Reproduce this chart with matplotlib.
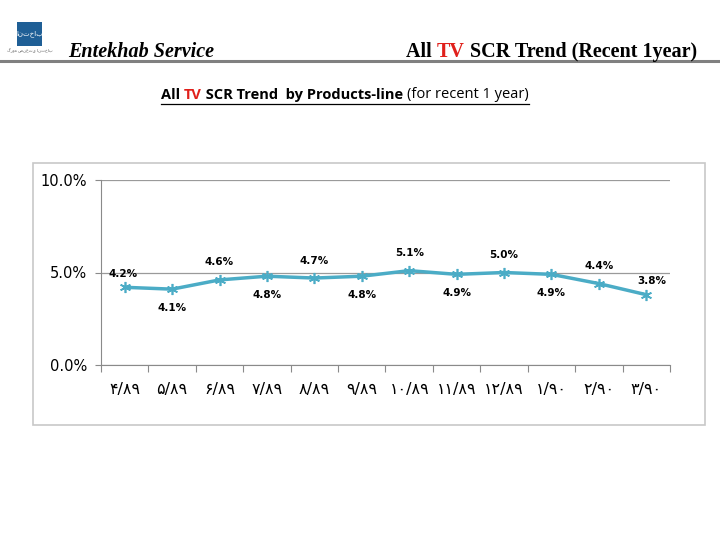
import matplotlib
matplotlib.use("Agg")
import matplotlib.pyplot as plt
from matplotlib.patches import Rectangle
from matplotlib.lines import Line2D

categories = ["۴/۸۹", "۵/۸۹", "۶/۸۹", "۷/۸۹", "۸/۸۹", "۹/۸۹",
              "۱۰/۸۹", "۱۱/۸۹", "۱۲/۸۹", "۱/۹۰", "۲/۹۰", "۳/۹۰"]
scr_values = [4.2, 4.1, 4.6, 4.8, 4.7, 4.8, 5.1, 4.9, 5.0, 4.9, 4.4, 3.8]
label_pos = ["above", "below", "above", "below", "above", "below",
             "above", "below", "above", "below", "above", "aboveright"]
yticks = [0, 5, 10]

W, H = 720, 540
fig = plt.figure(figsize=(W / 100, H / 100), dpi=100)
fig.patch.set_facecolor("white")

def fx(px):
    return px / W

def fy(py):
    return 1 - py / H

# header logo
fig.patches.append(Rectangle((fx(17), fy(46)), fx(25), 24 / H, transform=fig.transFigure,
                             facecolor="#1f5f96", edgecolor="none"))
fig.text(fx(29.5), fy(34), "انتخاب", color="white", fontsize=5, ha="center", va="center",
         family="DejaVu Sans")
fig.text(fx(29.5), fy(51), "گروه صنعتی انتخاب", color="#555555", fontsize=3, ha="center",
         va="center", family="DejaVu Sans")

fig.text(fx(68), fy(52), "Entekhab Service", fontsize=14.5, fontweight="bold", fontstyle="italic",
         family="Liberation Serif", ha="left", va="center")

# right header title with red TV
renderer = fig.canvas.get_renderer()
parts = [("All ", "black"), ("TV", "#e0201b"), (" SCR Trend (Recent 1year)", "black")]
widths = []
for t, c in parts:
    tt = fig.text(0, 0, t, fontsize=14.5, fontweight="bold", family="Liberation Serif")
    widths.append(tt.get_window_extent(renderer).width)
    tt.remove()
x = 697 - sum(widths)
for (t, c), w in zip(parts, widths):
    fig.text(fx(x), fy(52), t, fontsize=14.5, fontweight="bold", family="Liberation Serif",
             color=c, ha="left", va="center")
    x += w

fig.lines.append(Line2D([0, 1], [fy(61), fy(61)], transform=fig.transFigure,
                        color="#808080", lw=2.2))

# subtitle underlined
sparts = [("All ", "black", "bold"), ("TV", "#e0201b", "bold"),
          (" SCR Trend  by Products-line ", "black", "bold"), ("(for recent 1 year)", "black", "normal")]
sw = []
for t, c, wgt in sparts:
    tt = fig.text(0, 0, t, fontsize=10.5, fontweight=wgt, family="Open Sans")
    sw.append(tt.get_window_extent(renderer).width)
    tt.remove()
x0 = 345 - sum(sw) / 2
x = x0
for (t, c, wgt), w in zip(sparts, sw):
    fig.text(fx(x), fy(95), t, fontsize=10.5, fontweight=wgt, family="Open Sans",
             color=c, ha="left", va="center")
    x += w
fig.lines.append(Line2D([fx(x0), fx(x)], [fy(104), fy(104)], transform=fig.transFigure,
                        color="black", lw=0.9))

# chart frame
fig.patches.append(Rectangle((fx(33), fy(425)), fx(672), 262 / H, transform=fig.transFigure,
                             facecolor="none", edgecolor="#c8c8c8", lw=1.2))

ax = fig.add_axes([fx(101), fy(365), fx(670 - 101), (365 - 180) / H])
xs = list(range(len(categories)))
ax.plot(xs, scr_values, color="#4bacc6", lw=2.5, marker=(6, 2, 0), markersize=8,
        markeredgewidth=1.2, markeredgecolor="#4bacc6", zorder=3)
ax.set_xlim(-0.5, len(categories) - 0.5)
ax.set_ylim(0, 10)
ax.set_yticks(yticks)
ax.set_yticklabels([f"{v:.1f}%" for v in yticks], fontsize=10.5, family="DejaVu Sans")
ax.yaxis.grid(True, color="#9a9a9a", lw=0.9)
ax.set_axisbelow(True)
ax.set_xticks([i - 0.5 for i in range(len(categories) + 1)], minor=False)
ax.set_xticklabels([])
ax.set_xticks(xs, minor=True)
ax.set_xticklabels(categories, minor=True, fontsize=11.5, family="DejaVu Sans")
ax.tick_params(axis="x", which="minor", length=0, pad=12)
ax.tick_params(axis="x", which="major", length=5, color="#8a8a8a", direction="out")
ax.tick_params(axis="y", length=4, color="#8a8a8a", pad=6)
for s in ["top", "right"]:
    ax.spines[s].set_visible(False)
for s in ["left", "bottom"]:
    ax.spines[s].set_color("#8a8a8a")

for i, (v, p) in enumerate(zip(scr_values, label_pos)):
    if p == "above":
        off = (0, 9)
        va = "bottom"
        ha = "center"
    elif p == "below":
        off = (0, -10)
        va = "top"
        ha = "center"
    else:
        off = (4, 6)
        va = "bottom"
        ha = "center"
    if i == 0:
        off = (-1, 6)
    ax.annotate(f"{v:.1f}%", (i, v), xytext=off, textcoords="offset points",
                ha=ha, va=va, fontsize=7.5, fontweight="bold", family="DejaVu Sans")

fig.savefig("out.png", dpi=100, facecolor="white")
